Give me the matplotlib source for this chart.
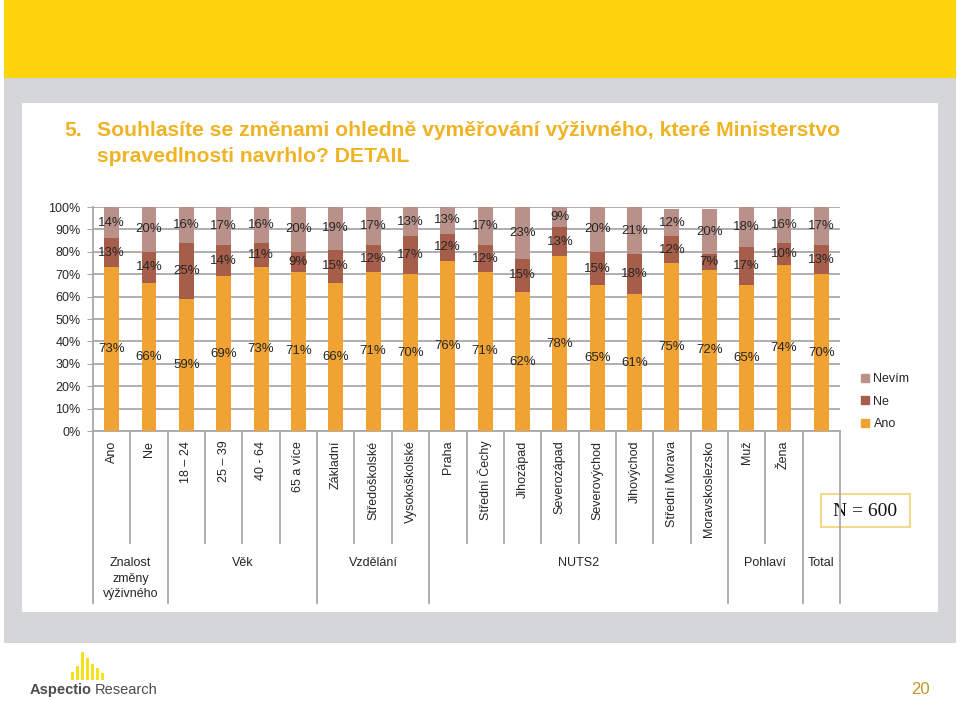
import matplotlib
matplotlib.use("Agg")
import matplotlib.pyplot as plt
import matplotlib.font_manager as fm
from matplotlib.patches import Rectangle, Patch
import matplotlib.transforms as mtransforms

# --- data -------------------------------------------------------------
categories = ["Ano", "Ne", "18 – 24", "25 – 39", "40 - 64", "65 a více",
              "Základní", "Středoškolské", "Vysokoškolské", "Praha",
              "Střední Čechy", "Jihozápad", "Severozápad", "Severovýchod",
              "Jihovýchod", "Střední Morava", "Moravskoslezsko", "Muž",
              "Žena", ""]
ano = [73, 66, 59, 69, 73, 71, 66, 71, 70, 76, 71, 62, 78, 65, 61, 75, 72, 65, 74, 70]
ne = [13, 14, 25, 14, 11, 9, 15, 12, 17, 12, 12, 15, 13, 15, 18, 12, 7, 17, 10, 13]
nevim = [14, 20, 16, 17, 16, 20, 19, 17, 13, 13, 17, 23, 9, 20, 21, 12, 20, 18, 16, 17]
groups = ["Znalost\nzměny\nvýživného", "Věk", "Vzdělání", "NUTS2", "Pohlaví", "Total"]
group_sizes = [2, 4, 3, 8, 2, 1]
series_names = ["Ano", "Ne", "Nevím"]

C_ANO, C_NE, C_NEVIM = "#F0A332", "#A65E4A", "#B99189"
GRID = "#A8A8A8"
TXT = "#262626"
TITLE_C = "#F0B323"

names = {f.name for f in fm.fontManager.ttflist}
FONT = "Liberation Sans" if "Liberation Sans" in names else "DejaVu Sans"
plt.rcParams["font.family"] = [FONT, "DejaVu Sans"]

fig = plt.figure(figsize=(9.6, 7.01), dpi=100)
fig.patch.set_facecolor("white")

# background slide (pixel coordinates)
bg = fig.add_axes([0, 0, 1, 1])
bg.set_xlim(0, 960)
bg.set_ylim(701, 0)
bg.axis("off")
bg.add_patch(Rectangle((4, 0), 952, 78, facecolor="#FDD40C", edgecolor="none"))
bg.add_patch(Rectangle((4, 78), 952, 565, facecolor="#D5D6D8", edgecolor="none"))
bg.add_patch(Rectangle((22, 103), 916, 509, facecolor="white", edgecolor="none"))

bg.text(64, 131, "5.", color=TITLE_C, fontsize=15.2, fontweight="bold", va="center")
bg.text(97, 131, "Souhlasíte se změnami ohledně vyměřování výživného, které Ministerstvo",
        color=TITLE_C, fontsize=15.2, fontweight="bold", va="center")
bg.text(97, 156, "spravedlnosti navrhlo? DETAIL", color=TITLE_C, fontsize=15.2,
        fontweight="bold", va="center")

# logo + page number
for x, h in zip([71, 76, 81, 86, 91, 96, 101], [8, 14, 28, 22, 16, 12, 7]):
    bg.add_patch(Rectangle((x, 680 - h), 2.5, h, facecolor="#F5E21A", edgecolor="none"))
t1 = bg.text(30, 690, "Aspectio", fontsize=10.5, fontweight="bold", color="#4D4D4D",
             va="center")
bg.annotate("Research", xy=(1, 0.5), xycoords=t1, xytext=(2, 0),
            textcoords="offset points", fontsize=10.5, color="#4D4D4D", va="center")
bg.text(920, 690, "20", fontsize=12, color="#C8902A", ha="center", va="center")

# N box
bg.add_patch(Rectangle((821, 494), 89, 33, facecolor="white", edgecolor="#F2D98C", lw=1.5))
bg.text(865.5, 511, "N = 600", fontsize=14, ha="center", va="center", color="#111111",
        family=["Liberation Serif", "DejaVu Serif"])

# --- chart ------------------------------------------------------------
L, R, T, B = 93, 840, 207, 431
ax = fig.add_axes([L / 960, (701 - B) / 701, (R - L) / 960, (B - T) / 701])
ax.set_facecolor("none")
x = list(range(len(categories)))
w = 0.4
b1 = ax.bar(x, ano, w, color=C_ANO, zorder=3)
b2 = ax.bar(x, ne, w, bottom=ano, color=C_NE, zorder=3)
bottom3 = [a + n for a, n in zip(ano, ne)]
b3 = ax.bar(x, nevim, w, bottom=bottom3, color=C_NEVIM, zorder=3)
for cont in (b1, b2, b3):
    ax.bar_label(cont, fmt="%d%%", label_type="center", fontsize=9.5, color=TXT, zorder=4)

ax.set_xlim(-0.5, len(categories) - 0.5)
ax.set_ylim(0, 100)
ax.set_yticks(range(0, 101, 10))
ax.set_yticklabels([f"{v}%" for v in range(0, 101, 10)], fontsize=9, color=TXT)
ax.yaxis.grid(True, color=GRID, lw=1.3, zorder=0)
ax.set_axisbelow(True)
ax.tick_params(axis="y", direction="out", length=4, color=GRID, pad=5)
for s in ("top", "right"):
    ax.spines[s].set_visible(False)
for s in ("left", "bottom"):
    ax.spines[s].set_color(GRID)
    ax.spines[s].set_linewidth(1.3)

ax.set_xticks(x)
ax.set_xticklabels(categories, rotation=90, fontsize=9, color=TXT)
ax.tick_params(axis="x", length=0, pad=7)

# category table below the axis
trans = mtransforms.blended_transform_factory(ax.transData, ax.transAxes)
short_y = (B - 543) / (B - T)
long_y = (B - 603) / (B - T)
edges = [0]
for s in group_sizes:
    edges.append(edges[-1] + s)
for k in range(len(categories) + 1):
    y1 = long_y if k in edges else short_y
    ax.plot([k - 0.5, k - 0.5], [0, y1], color=GRID, lw=1.3, transform=trans,
            clip_on=False)
gy = (B - 557) / (B - T)
for g, s0, s1 in zip(groups, edges[:-1], edges[1:]):
    ax.text((s0 + s1 - 1) / 2, gy, g, transform=trans, ha="center", va="top",
            fontsize=9, color=TXT, linespacing=1.4)

handles = [Patch(color=C_NEVIM), Patch(color=C_NE), Patch(color=C_ANO)]
leg = fig.legend(handles, series_names[::-1], loc="upper left",
                 bbox_to_anchor=(861, 373), bbox_transform=bg.transData,
                 frameon=False, fontsize=9, handlelength=0.6, handleheight=0.6,
                 handletextpad=0.4, labelspacing=0.85, borderpad=0, borderaxespad=0)
for t in leg.get_texts():
    t.set_color(TXT)

fig.savefig("out.png", dpi=100, facecolor="white")
